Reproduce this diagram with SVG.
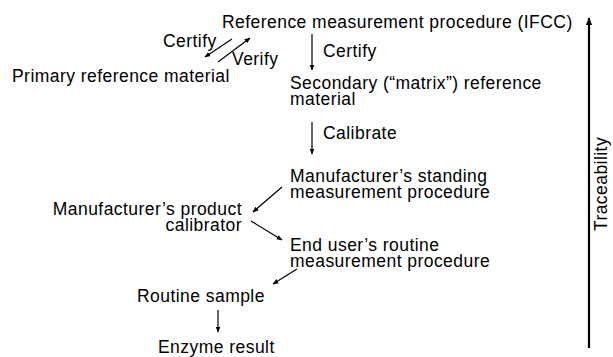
<svg xmlns="http://www.w3.org/2000/svg" width="613" height="357" viewBox="0 0 613 357">
<defs>
<marker id="ah" viewBox="0 0 10 10" refX="9" refY="5" markerWidth="6" markerHeight="6" markerUnits="userSpaceOnUse" orient="auto"><path d="M0,1 L10,5 L0,9 z" fill="#000"/></marker>
<marker id="ahb" viewBox="0 0 10 10" refX="9" refY="5" markerWidth="8" markerHeight="8" markerUnits="userSpaceOnUse" orient="auto"><path d="M0,1 L10,5 L0,9 z" fill="#000"/></marker>
<style>
text{font-family:"Liberation Sans",Arial,sans-serif;font-size:17.5px;letter-spacing:0.45px;fill:#000}
.e{text-anchor:end}
.c{stroke:#000;stroke-width:1.2;fill:none;marker-end:url(#ah)}
.t{stroke:#000;stroke-width:2.2;fill:none;marker-end:url(#ahb)}
</style>
</defs>
<rect width="613" height="357" fill="#fff"/>
<g id="connectors">
<line class="c" x1="232" y1="39" x2="205" y2="57"/>
<line class="c" x1="218" y1="62" x2="250" y2="38"/>
<line class="c" x1="312" y1="34" x2="312" y2="70"/>
<line class="c" x1="312" y1="122" x2="312" y2="154"/>
<line class="c" x1="282" y1="187" x2="253" y2="212"/>
<line class="c" x1="251" y1="221" x2="282" y2="240"/>
<line class="c" x1="297" y1="269" x2="273" y2="284"/>
<line class="c" x1="218" y1="310" x2="218" y2="332"/>
<line class="t" x1="589" y1="348" x2="589" y2="18"/>
</g>
<g id="ref-procedure"><text x="222" y="28">Reference measurement procedure (IFCC)</text></g>
<g id="label-certify-1"><text x="163" y="47">Certify</text></g>
<g id="label-verify"><text x="232" y="65">Verify</text></g>
<g id="primary-material"><text x="12" y="82">Primary reference material</text></g>
<g id="label-certify-2"><text x="323" y="57">Certify</text></g>
<g id="secondary-material"><text x="290" y="89">Secondary (“matrix”) reference</text><text x="290" y="105">material</text></g>
<g id="label-calibrate"><text x="323" y="139">Calibrate</text></g>
<g id="manufacturer-procedure"><text x="290" y="182">Manufacturer’s standing</text><text x="290" y="198">measurement procedure</text></g>
<g id="product-calibrator"><text class="e" x="242" y="215">Manufacturer’s product</text><text class="e" x="242" y="231">calibrator</text></g>
<g id="end-user-procedure"><text x="290" y="251">End user’s routine</text><text x="290" y="267">measurement procedure</text></g>
<g id="routine-sample"><text x="137" y="302">Routine sample</text></g>
<g id="enzyme-result"><text x="158" y="353">Enzyme result</text></g>
<g id="traceability"><text transform="translate(607,184) rotate(-90)" text-anchor="middle">Traceability</text></g>
</svg>
